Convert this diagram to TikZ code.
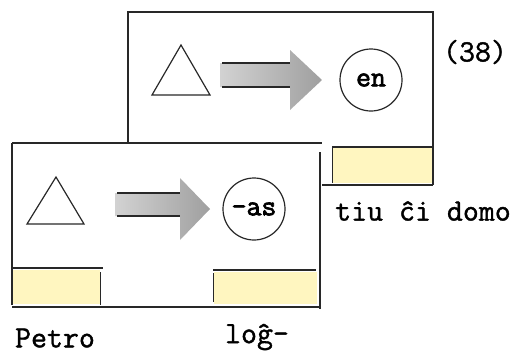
\documentclass[tikz,border=0pt]{standalone}
\usepackage{fontspec}
\newfontfamily\tw[FakeBold=1.2]{Latin Modern Mono}
\newfontfamily\rw[FakeBold=2.5]{Latin Modern Mono}
\definecolor{pale}{RGB}{255,246,192}
\definecolor{ink}{RGB}{40,40,40}
\tikzset{
  frame/.style={draw=ink, line width=1.4pt},
  tri/.style={draw=ink, line width=1.2pt, line join=miter},
  ring/.style={draw=ink, line width=1.2pt, circle, minimum size=62pt, inner sep=0pt,
    font=\rw\fontsize{29}{29}\selectfont},
  bigarrow/.style={left color=gray!35, right color=gray!75, draw=none},
  strip/.style={fill=pale, draw=none},
  lbl/.style={font=\tw\fontsize{31}{31}\selectfont, inner sep=0pt},
}
\begin{document}
\begin{tikzpicture}[x=1pt,y=-1pt]
\useasboundingbox (0,0) rectangle (523,354);
% ---------- upper panel ----------
\fill[strip] (332,148) rectangle (432,183);
\draw[frame] (128,143) -- (128,12) -- (433,12) -- (433,185);
\draw[frame] (322,185) -- (433,185);
\draw[frame] (332,147) -- (433,147);
\draw[frame, line width=1pt] (332,148) -- (332,183);
\draw[tri] (181,45) -- (210,95) -- (152,95) -- cycle;
\path[bigarrow] (220,63) -- (290,63) -- (290,50) -- (322,80) -- (290,110) -- (290,87) -- (220,87) -- cycle;
\draw[ink, line width=1.2pt] (222,63) -- (290,63) (222,87) -- (290,87);
\node[ring] (c1) at (371,80) {en};
\coordinate (t1) at (181,78);
% ---------- lower panel ----------
\fill[strip] (13,270) rectangle (100,304);
\fill[strip] (214,272) rectangle (317,304);
\draw[frame] (12,143) -- (322,143);
\draw[frame] (12,143) -- (12,305);
\draw[frame] (12,307) -- (320,307);
\draw[frame] (320,152) -- (320,309);
\draw[frame] (12,268) -- (103,268);
\draw[frame] (213,270) -- (316,270);
\draw[frame, line width=1pt] (100,272) -- (100,305);
\draw[frame, line width=1pt] (213,273) -- (213,302);
\draw[tri] (56,177) -- (84,224) -- (27,224) -- cycle;
\path[bigarrow] (115,193) -- (180,193) -- (180,178) -- (210,209) -- (180,240) -- (180,216) -- (115,216) -- cycle;
\draw[ink, line width=1.2pt] (117,193) -- (180,193) (117,216) -- (180,216);
\node[ring] (c2) at (254,209) {-as};
\coordinate (t2) at (56,208);
% ---------- labels ----------
\node[lbl] (num) at (475,52) {(38)};
\node[lbl] (tiu) at (423,211) {tiu ĉi domo};
\node[lbl] (petro) at (55,338) {Petro};
\node[lbl] (log) at (257,337) {loĝ-};
\end{tikzpicture}
\end{document}
